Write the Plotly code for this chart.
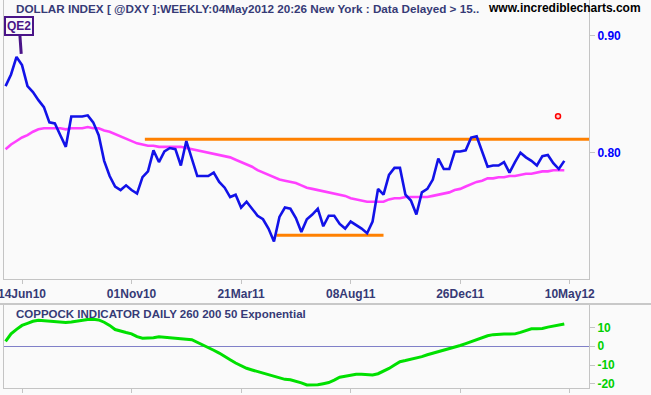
import pandas as pd
import plotly.graph_objects as go

# ---------------- data ----------------
start_date = "2010-05-24"
n_weeks = 103
dates = pd.date_range(start_date, periods=n_weeks, freq="7D")

dollar_index = [
    0.857, 0.867, 0.882, 0.875, 0.857, 0.852, 0.845, 0.839, 0.826, 0.825,
    0.815, 0.805, 0.831, 0.831, 0.831, 0.832, 0.826, 0.815, 0.793, 0.780,
    0.771, 0.768, 0.772, 0.768, 0.765, 0.779, 0.784, 0.802, 0.792, 0.801,
    0.804, 0.803, 0.789, 0.810, 0.794, 0.780, 0.780, 0.780, 0.783, 0.775,
    0.770, 0.762, 0.764, 0.753, 0.758, 0.752, 0.746, 0.743, 0.735, 0.724,
    0.745, 0.753, 0.752, 0.744, 0.732, 0.743, 0.747, 0.752, 0.737, 0.746,
    0.746, 0.739, 0.735, 0.741, 0.738, 0.735, 0.731, 0.741, 0.769, 0.764,
    0.781, 0.787, 0.787, 0.764, 0.759, 0.747, 0.766, 0.769, 0.777, 0.795,
    0.786, 0.786, 0.801, 0.801, 0.802, 0.813, 0.814, 0.801, 0.788, 0.789,
    0.789, 0.792, 0.783, 0.792, 0.800, 0.796, 0.793, 0.789, 0.797, 0.798,
    0.791, 0.786, 0.793,
]

moving_average = [
    0.803, 0.807, 0.810, 0.813, 0.815, 0.818, 0.820, 0.821, 0.821, 0.821,
    0.821, 0.820, 0.821, 0.821, 0.821, 0.822, 0.821, 0.821, 0.819, 0.818,
    0.816, 0.814, 0.812, 0.810, 0.808, 0.807, 0.806, 0.806, 0.805, 0.805,
    0.805, 0.805, 0.805, 0.804, 0.803, 0.802, 0.801, 0.800, 0.799, 0.798,
    0.797, 0.796, 0.794, 0.792, 0.790, 0.788, 0.785, 0.783, 0.781, 0.779,
    0.777, 0.776, 0.775, 0.774, 0.772, 0.770, 0.769, 0.768, 0.767, 0.766,
    0.765, 0.764, 0.763, 0.761, 0.760, 0.759, 0.758, 0.758, 0.758, 0.758,
    0.760, 0.761, 0.761, 0.762, 0.762, 0.762, 0.762, 0.762, 0.763, 0.764,
    0.765, 0.766, 0.768, 0.769, 0.771, 0.773, 0.775, 0.776, 0.778, 0.778,
    0.779, 0.779, 0.780, 0.780, 0.781, 0.782, 0.782, 0.783, 0.784, 0.784,
    0.785, 0.785, 0.785,
]

coppock = [
    2.6, 6.6, 9.0, 11.1, 12.2, 13.3, 13.9, 13.7, 13.6, 13.4,
    13.0, 12.7, 12.9, 13.4, 13.9, 14.2, 14.4, 14.0, 12.8, 11.1,
    8.9, 7.9, 7.3, 6.6, 5.1, 4.3, 4.3, 4.6, 5.1, 4.9,
    4.7, 4.5, 4.2, 3.8, 3.5, 2.2, 0.7, -0.6, -2.1, -3.6,
    -5.2, -7.2, -8.9, -10.3, -11.7, -12.6, -13.5, -14.3, -15.2, -16.1,
    -17.0, -17.6, -17.8, -18.5, -19.5, -20.6, -20.6, -20.5, -19.9, -19.3,
    -18.0, -16.5, -15.9, -15.2, -14.9, -14.9, -15.0, -15.3, -14.6, -13.4,
    -11.8, -10.0, -8.2, -7.6, -7.0, -6.4, -5.5, -4.5, -3.7, -3.0,
    -2.3, -1.6, -0.6, 0.4, 1.4, 2.5, 3.7, 4.9, 5.6, 6.2,
    6.5, 6.5, 6.5, 6.6, 7.4, 8.5, 9.3, 9.3, 9.5, 10.2,
    10.7, 11.3, 11.9,
]

resistance_dates = ["2010-11-18", "2012-06-08"]
resistance_level = [0.8115, 0.8115]
support_dates = ["2011-05-05", "2011-09-19"]
support_level = [0.7292, 0.7292]

marker_date = ["2012-04-29"]
marker_value = [0.8312]

qe2_date = "2010-06-13"
qe2_value = 0.8846

tick_dates = ["2010-06-14", "2010-11-01", "2011-03-21", "2011-08-08", "2011-12-26", "2012-05-14"]
tick_labels = ["14Jun10", "01Nov10", "21Mar11", "08Aug11", "26Dec11", "10May12"]

price_ticks = [0.80, 0.90]
price_tick_labels = ["0.80", "0.90"]
coppock_ticks = [-20, -10, 0, 10]
coppock_tick_labels = ["-20", "-10", "0", "10"]

title_text = "DOLLAR INDEX [ @DXY ]:WEEKLY:04May2012 20:26 New York : Data Delayed > 15.."
site_text = "www.incrediblecharts.com"
indicator_text = "COPPOCK INDICATOR DAILY 260 200 50 Exponential"

# ---------------- figure ----------------
W, H = 651, 395
ml, mr, mt, mb = 4, 62, 0, 7
plot_h = H - mt - mb  # 388


def py(px):
    """pixel y (from top) -> paper y"""
    return (plot_h - (px - mt)) / plot_h


def pxx(px):
    return (px - ml) / (W - ml - mr)


BG = "#FAFAFA"
NAVY = "#363A76"
GRID = "#C4C4C4"
FONT = "Liberation Sans, Arial, sans-serif"
x_range = ["2010-05-22", "2012-06-07 14:00"]

fig = go.Figure()

fig.add_trace(go.Scatter(x=dates, y=moving_average, mode="lines",
                         line=dict(color="#FF40FF", width=2.6), xaxis="x", yaxis="y"))
fig.add_trace(go.Scatter(x=resistance_dates, y=resistance_level, mode="lines",
                         line=dict(color="#FF8000", width=3), xaxis="x", yaxis="y"))
fig.add_trace(go.Scatter(x=support_dates, y=support_level, mode="lines",
                         line=dict(color="#FF8000", width=3), xaxis="x", yaxis="y"))
fig.add_trace(go.Scatter(x=dates, y=dollar_index, mode="lines",
                         line=dict(color="#1212E8", width=2.6), xaxis="x", yaxis="y"))
fig.add_trace(go.Scatter(x=marker_date, y=marker_value, mode="markers",
                         marker=dict(size=5, color="#FFD0D0", line=dict(color="#FF0000", width=1.5)),
                         xaxis="x", yaxis="y"))
fig.add_trace(go.Scatter(x=dates, y=coppock, mode="lines",
                         line=dict(color="#00E000", width=3), xaxis="x2", yaxis="y2"))

main_bottom = py(279)
low_top = py(304)

fig.update_layout(
    template="none",
    width=W, height=H,
    margin=dict(l=ml, r=mr, t=mt, b=mb, autoexpand=False),
    paper_bgcolor=BG, plot_bgcolor=BG,
    showlegend=False,
    font=dict(family=FONT),
    xaxis=dict(domain=[0, 1], range=x_range, type="date", anchor="y",
               tickvals=tick_dates, ticktext=tick_labels, ticklabeloverflow="allow",
               ticks="outside", ticklen=4, tickcolor=GRID,
               showline=True, linecolor=GRID, linewidth=1,
               showgrid=False, zeroline=False, automargin=False,
               tickfont=dict(size=12, color=NAVY, weight="bold")),
    yaxis=dict(domain=[main_bottom, 1], range=[0.6918, 0.9308], side="right", anchor="x",
               tickvals=price_ticks, ticktext=price_tick_labels,
               ticks="outside", ticklen=5, tickcolor=GRID,
               showline=True, linecolor=GRID, linewidth=1, mirror=True,
               showgrid=False, zeroline=False, automargin=False,
               tickfont=dict(size=12, color="#0000FF", weight="bold")),
    xaxis2=dict(domain=[0, 1], range=x_range, type="date", anchor="y2",
                tickvals=tick_dates, showticklabels=False,
                ticks="outside", ticklen=4, tickcolor=GRID,
                showline=True, linecolor=GRID, linewidth=1,
                showgrid=False, zeroline=False, automargin=False),
    yaxis2=dict(domain=[0, low_top], range=[-22.2, 22.5], side="right", anchor="x2",
                tickvals=coppock_ticks, ticktext=coppock_tick_labels,
                ticks="outside", ticklen=5, tickcolor=GRID,
                showline=True, linecolor=GRID, linewidth=1, mirror=True,
                showgrid=False, zeroline=True, zerolinecolor="#8080C8", zerolinewidth=1,
                automargin=False,
                tickfont=dict(size=12, color="#00D000", weight="bold")),
)

# separator between panels
fig.add_shape(type="line", xref="paper", yref="paper",
              x0=pxx(0), x1=pxx(W), y0=py(304), y1=py(304),
              line=dict(color="#C8C8C8", width=2))

fig.add_annotation(text=title_text, xref="paper", yref="paper",
                   x=pxx(14), y=py(8.5), xanchor="left", yanchor="middle",
                   showarrow=False, font=dict(size=11.7, color=NAVY, weight="bold"))
fig.add_annotation(text=site_text, xref="paper", yref="paper",
                   x=pxx(643), y=py(8), xanchor="right", yanchor="middle",
                   showarrow=False, font=dict(size=12, color="#000000", weight="bold"))
fig.add_annotation(text=indicator_text, xref="paper", yref="paper",
                   x=pxx(14), y=py(313.5), xanchor="left", yanchor="middle",
                   showarrow=False, font=dict(size=11.5, color=NAVY, weight="bold"))

fig.add_annotation(text="QE2", x=qe2_date, y=qe2_value, xref="x", yref="y",
                   showarrow=True, arrowhead=0, arrowwidth=3, arrowcolor="#4A1488",
                   ax=-2, ay=-28, bordercolor="#4A1488", borderwidth=2, borderpad=1,
                   bgcolor=BG, font=dict(size=12, color="#4A1488", weight="bold"))

fig.write_html("out.html",
               config={"displayModeBar": False},
               post_script="document.body.style.margin='0';document.body.style.overflow='hidden';"
                           "document.body.style.background='#FAFAFA';")
